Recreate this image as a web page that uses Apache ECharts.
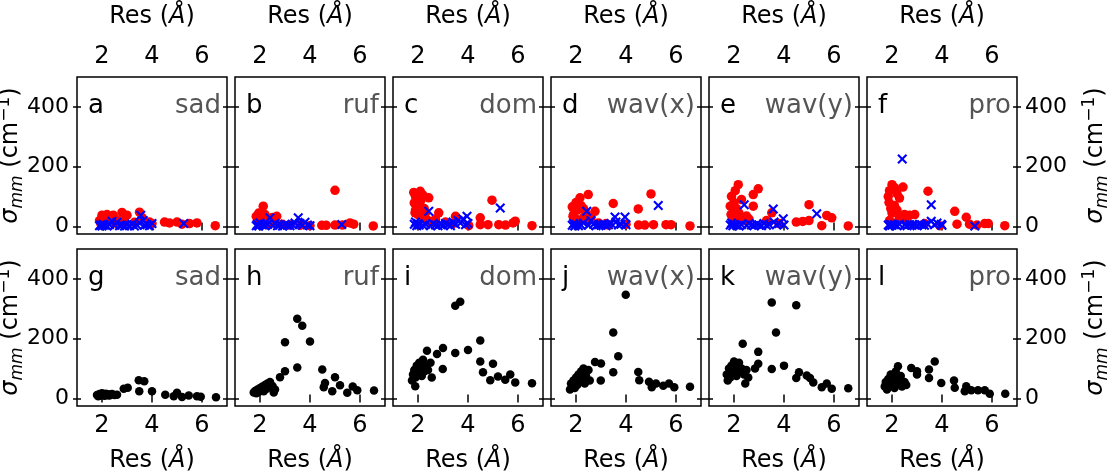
<!DOCTYPE html>
<html>
<head>
<meta charset="UTF-8">
<title>sigma vs res</title>
<script src="https://cdn.jsdelivr.net/npm/echarts@6/dist/echarts.min.js"></script>
<style>
  body { margin: 0; background: #fff; }
  #main { width: 1114px; height: 473px; }
</style>
</head>
<body>
<div id="main"></div>
<script type="text/javascript">
// tick values
var xTicks = [2, 4, 6];
var yTicks = [0, 200, 400];
var letters = ['a', 'b', 'c', 'd', 'e', 'f', 'g', 'h', 'i', 'j', 'k', 'l'];
var modes = ['sad', 'ruf', 'dom', 'wav(x)', 'wav(y)', 'pro'];

// top row: red dots and blue crosses, [res, sigma]
var redA = [[1.9,20],[2.0,38],[2.1,30],[2.2,40],[2.3,25],[2.45,38],[2.6,22],[2.8,47],[3.0,38],[2.9,20],[3.5,48],[3.6,30],[3.9,15],[4.5,15],[4.7,12],[5.0,15],[5.2,8],[5.5,10],[5.8,12],[6.53,3],[1.95,10],[2.05,15],[2.5,12],[3.3,14],[4.0,10]];
var blueA = [[1.9,3],[1.95,6],[2.0,2],[2.05,8],[2.1,4],[2.2,2],[2.3,6],[2.4,18],[2.5,4],[2.6,14],[2.7,3],[2.8,5],[2.9,2],[3.0,6],[3.1,3],[3.2,8],[3.3,2],[3.4,5],[3.5,12],[3.55,38],[3.65,20],[3.7,4],[3.8,6],[3.9,3],[4.0,10],[5.27,10]];
var redB = [[1.85,34],[1.9,20],[1.95,45],[2.0,30],[2.05,15],[2.13,68],[2.2,40],[2.3,22],[2.4,10],[2.5,30],[2.67,34],[2.6,12],[2.9,8],[3.2,5],[3.6,4],[4.0,3],[4.47,4],[4.65,4],[5.0,121],[5.0,5],[5.3,5],[5.6,12],[5.75,8],[6.53,2]];
var blueB = [[1.85,3],[1.9,8],[1.95,2],[2.0,12],[2.1,5],[2.2,3],[2.3,7],[2.4,29],[2.5,4],[2.6,10],[2.7,3],[2.8,6],[2.9,2],[3.0,8],[3.1,4],[3.2,3],[3.3,6],[3.4,12],[3.53,29],[3.6,10],[3.7,4],[3.8,14],[3.9,5],[4.0,3],[5.27,7]];
var redC = [[1.83,114],[1.9,100],[2.09,118],[2.0,92],[2.2,105],[2.43,96],[1.85,79],[2.0,70],[2.1,85],[2.25,60],[1.9,55],[1.88,46],[2.0,40],[2.15,30],[2.3,45],[2.4,20],[2.5,15],[2.83,46],[2.7,25],[3.1,15],[3.5,34],[3.4,10],[4.03,3],[4.49,29],[4.49,6],[4.96,88],[4.8,6],[5.23,6],[5.5,5],[5.8,12],[5.89,18],[6.56,3]];
var blueC = [[1.85,8],[1.9,15],[1.95,3],[2.0,10],[2.05,5],[2.2,4],[2.3,8],[2.43,51],[2.5,3],[2.6,10],[2.7,5],[2.8,3],[2.9,8],[3.0,4],[3.1,10],[3.2,6],[3.3,3],[3.4,15],[3.5,8],[3.6,20],[3.7,12],[3.8,25],[3.96,34],[3.9,6],[4.0,10],[5.29,62]];
var redD = [[1.85,66],[1.9,40],[2.0,80],[2.05,55],[2.16,96],[2.2,70],[2.3,60],[2.49,107],[2.4,45],[1.88,34],[2.0,25],[2.1,15],[2.3,30],[2.5,20],[2.76,51],[2.6,30],[2.9,12],[3.2,10],[3.49,77],[3.3,5],[4.0,8],[4.49,59],[4.5,5],[4.75,5],[5.0,109],[5.1,6],[5.6,6],[5.8,6],[6.56,2]];
var blueD = [[1.85,4],[1.9,10],[1.95,2],[2.0,7],[2.1,3],[2.2,5],[2.3,12],[2.43,51],[2.5,4],[2.6,20],[2.7,8],[2.8,3],[2.9,6],[3.0,4],[3.1,8],[3.2,3],[3.3,6],[3.4,10],[3.56,32],[3.6,15],[3.7,5],[3.8,8],[3.96,32],[4.0,6],[5.29,70]];
var redE = [[1.85,68],[1.9,101],[2.0,80],[2.05,120],[2.17,140],[2.1,60],[2.2,45],[2.3,90],[1.88,40],[1.95,25],[2.0,15],[2.25,30],[2.4,20],[2.5,35],[2.77,107],[2.97,126],[2.77,68],[2.6,25],[3.51,46],[3.3,20],[3.8,10],[4.49,15],[4.75,17],[5.0,73],[5.0,20],[5.51,3],[5.71,37],[5.91,29],[6.57,2]];
var blueE = [[1.85,5],[1.9,12],[1.95,3],[2.0,8],[2.1,4],[2.2,2],[2.3,6],[2.41,73],[2.5,4],[2.6,10],[2.7,5],[2.8,3],[2.9,8],[3.0,5],[3.1,3],[3.2,10],[3.3,4],[3.4,7],[3.57,59],[3.6,15],[3.7,6],[3.8,10],[3.97,26],[4.0,5],[5.31,43]];
var redF = [[1.85,100],[1.9,120],[2.0,140],[2.1,130],[2.44,132],[2.2,110],[2.3,95],[1.88,80],[1.95,60],[2.0,45],[2.1,70],[2.2,55],[2.3,30],[1.9,20],[2.05,12],[2.5,40],[2.7,38],[2.91,40],[2.6,20],[3.44,118],[3.3,10],[3.91,3],[4.51,51],[4.6,8],[4.97,31],[5.1,8],[5.4,5],[5.71,10],[5.85,10],[6.51,3]];
var blueF = [[1.85,5],[1.9,2],[1.95,8],[2.0,4],[2.1,6],[2.2,3],[2.3,8],[2.41,226],[2.5,5],[2.6,3],[2.7,7],[2.8,4],[2.9,6],[3.0,3],[3.1,8],[3.2,5],[3.3,4],[3.4,10],[3.57,73],[3.57,18],[3.7,6],[3.8,12],[3.97,8],[4.0,4],[5.31,2]];

// bottom row: black dots
var blackG = [[1.8,12],[1.85,8],[1.9,15],[1.95,10],[2.0,18],[2.05,12],[2.1,9],[2.15,16],[2.2,11],[2.25,14],[2.3,10],[2.4,15],[2.5,12],[2.6,13],[2.87,33],[3.03,36],[3.47,61],[3.69,58],[3.49,24],[4.0,24],[4.53,13],[5.0,19],[4.87,8],[5.2,5],[5.47,10],[5.8,8],[5.95,6],[6.56,4]];
var blackH = [[1.75,20],[1.8,25],[1.85,18],[1.9,30],[1.95,22],[2.0,35],[2.05,28],[2.1,40],[2.15,24],[2.2,45],[2.25,32],[2.3,50],[2.35,38],[2.4,55],[2.5,42],[2.6,30],[2.55,20],[2.8,71],[3.0,91],[3.0,188],[3.49,104],[3.49,267],[3.69,243],[4.0,191],[4.49,97],[4.6,52],[4.55,38],[5.0,71],[5.2,44],[4.89,24],[5.49,19],[5.71,40],[5.89,28],[6.56,27]];
var blackI = [[1.76,60],[1.8,80],[1.85,95],[1.89,41],[1.9,70],[1.95,110],[2.0,85],[2.05,120],[2.1,100],[2.15,75],[2.2,130],[2.25,90],[2.3,110],[2.36,160],[2.4,95],[2.5,120],[2.55,70],[2.76,149],[3.0,169],[2.99,99],[3.49,152],[3.49,310],[3.69,324],[4.0,162],[4.49,194],[4.49,124],[4.6,88],[5.0,116],[4.89,61],[5.2,74],[5.49,63],[5.69,80],[5.89,54],[6.56,51]];
var blackJ = [[1.76,30],[1.8,50],[1.85,40],[1.9,60],[1.95,35],[2.0,70],[2.05,45],[2.1,80],[2.15,55],[2.2,90],[2.25,65],[2.3,100],[2.35,50],[2.4,75],[2.5,95],[2.55,60],[2.76,122],[3.0,117],[2.99,60],[3.49,221],[3.49,88],[3.69,141],[3.99,347],[4.49,89],[4.53,61],[4.92,56],[5.03,38],[5.2,50],[5.49,43],[5.72,50],[5.93,38],[6.56,39]];
var blackK = [[1.71,80],[1.75,60],[1.8,100],[1.85,70],[1.9,110],[1.95,85],[2.0,124],[2.05,95],[2.1,75],[2.15,105],[2.2,120],[2.25,90],[2.3,100],[2.35,183],[2.4,80],[2.45,50],[2.5,95],[2.57,70],[2.84,100],[2.97,156],[2.97,116],[3.51,321],[3.51,99],[3.68,221],[4.0,110],[4.49,312],[4.6,88],[4.49,69],[4.91,77],[5.04,69],[5.17,54],[5.51,38],[5.71,50],[5.91,33],[6.57,34]];
var blackL = [[1.71,40],[1.75,55],[1.8,30],[1.85,65],[1.9,45],[1.95,80],[2.0,50],[2.05,70],[2.1,35],[2.15,90],[2.2,60],[2.24,108],[2.3,50],[2.35,75],[2.4,40],[2.5,55],[2.57,45],[2.77,102],[3.0,91],[3.0,80],[3.48,97],[3.48,69],[3.71,124],[3.97,52],[4.48,60],[4.51,36],[4.97,41],[4.91,24],[5.17,28],[5.44,28],[5.71,28],[5.91,16],[6.53,16]];

var reds = [redA, redB, redC, redD, redE, redF];
var blues = [blueA, blueB, blueC, blueD, blueE, blueF];
var blacks = [blackG, blackH, blackI, blackJ, blackK, blackL];

// layout
var lefts = [77, 235, 393, 551, 709, 867];
var tops = [77, 249];
var W = 150, H = 157;
var FONT = 'DejaVu Sans';
var FS = 24;
var crossPath = 'path://M0,1.5L1.5,0L5,3.5L8.5,0L10,1.5L6.5,5L10,8.5L8.5,10L5,6.5L1.5,10L0,8.5L3.5,5Z';

var resName = '{n|Res (}{i|Å}{n|)}';
var resRich = {
    n: { fontSize: FS, fontFamily: FONT, color: '#000' },
    i: { fontSize: FS, fontFamily: FONT, fontStyle: 'italic', color: '#000' }
};
var sigName = '{i|σ}{sub|mm}{n| (cm}{sup|−1}{n|)}';
var sigRich = {
    n: { fontSize: FS, fontFamily: FONT, color: '#000', lineHeight: 30 },
    i: { fontSize: FS, fontFamily: FONT, fontStyle: 'italic', color: '#000', lineHeight: 30 },
    sub: { fontSize: 17, fontFamily: FONT, fontStyle: 'italic', color: '#000', lineHeight: 20, verticalAlign: 'bottom' },
    sup: { fontSize: 17, fontFamily: FONT, color: '#000', lineHeight: 18, verticalAlign: 'top' }
};

function tickCfg(inside) {
    return { show: true, inside: inside, length: 4, lineStyle: { color: '#000', width: 1.5 } };
}

var grids = [], xAxes = [], yAxes = [], series = [], graphics = [];

for (var p = 0; p < 12; p++) {
    var r = Math.floor(p / 6), c = p % 6;
    grids.push({
        left: lefts[c], top: tops[r], width: W, height: H,
        outerBoundsMode: 'none',
        show: true, borderColor: '#000', borderWidth: 1.5, backgroundColor: '#fff'
    });
    // x axes: bottom out, bottom in, top out, top in
    var xpos = ['bottom', 'bottom', 'top', 'top'];
    for (var k = 0; k < 4; k++) {
        var labelOn = (k === 0 && r === 1) || (k === 2 && r === 0);
        var ax = {
            type: 'value', gridIndex: p, position: xpos[k], min: 1, max: 7,
            axisLine: { show: false }, splitLine: { show: false },
            axisTick: tickCfg(k % 2 === 1),
            axisLabel: { show: labelOn, fontSize: FS, fontFamily: FONT, color: '#000', margin: 8 },
            silent: true
        };
        ax.axisTick.customValues = xTicks;
        ax.axisLabel.customValues = xTicks;
        if (labelOn) {
            ax.name = resName;
            ax.nameLocation = 'middle';
            ax.nameGap = r === 0 ? 48 : 43;
            ax.nameMoveOverlap = false;
            ax.nameTextStyle = { rich: resRich };
        }
        xAxes.push(ax);
    }
    // y axes: left out, left in, right out, right in
    var ypos = ['left', 'left', 'right', 'right'];
    for (var k = 0; k < 4; k++) {
        var labelOn = (k === 0 && c === 0) || (k === 2 && c === 5);
        var ay = {
            type: 'value', gridIndex: p, position: ypos[k], min: -25, max: 500,
            axisLine: { show: false }, splitLine: { show: false },
            axisTick: tickCfg(k % 2 === 1),
            axisLabel: { show: labelOn, fontSize: 22, fontFamily: FONT, color: '#000', margin: 8 },
            silent: true
        };
        ay.axisTick.customValues = yTicks;
        ay.axisLabel.customValues = yTicks;
        if (labelOn) {
            ay.name = sigName;
            ay.nameLocation = 'middle';
            ay.nameRotate = 90;
            ay.nameGap = c === 0 ? 51 : 64;
            ay.nameMoveOverlap = false;
            ay.nameTextStyle = { rich: sigRich };
        }
        yAxes.push(ay);
    }

    if (r === 0) {
        series.push({
            type: 'scatter', xAxisIndex: p * 4, yAxisIndex: p * 4,
            data: reds[c], symbol: 'circle', symbolSize: 9.5,
            itemStyle: { color: '#ff0000', opacity: 1 }, silent: true
        });
        series.push({
            type: 'scatter', xAxisIndex: p * 4, yAxisIndex: p * 4,
            data: blues[c], symbol: crossPath, symbolSize: 10,
            itemStyle: { color: '#0000ff', opacity: 1 }, silent: true
        });
    } else {
        series.push({
            type: 'scatter', xAxisIndex: p * 4, yAxisIndex: p * 4,
            data: blacks[c], symbol: 'circle', symbolSize: 8.5,
            itemStyle: { color: '#000', opacity: 1 }, silent: true
        });
    }

    // panel letter and mode label
    graphics.push({
        type: 'text', left: lefts[c] + 11, top: tops[r] + 16, z: 100,
        style: { text: letters[p], font: '26px "' + FONT + '"', fill: '#000' }
    });
    graphics.push({
        type: 'text', right: 1114 - (lefts[c] + W - 6), top: tops[r] + 16, z: 100,
        style: { text: modes[c], font: '26px "' + FONT + '"', fill: '#555555' }
    });
}

var chart = echarts.init(document.getElementById('main'));
chart.setOption({
    animation: false,
    backgroundColor: '#fff',
    grid: grids,
    xAxis: xAxes,
    yAxis: yAxes,
    series: series,
    graphic: graphics
});
</script>
</body>
</html>
